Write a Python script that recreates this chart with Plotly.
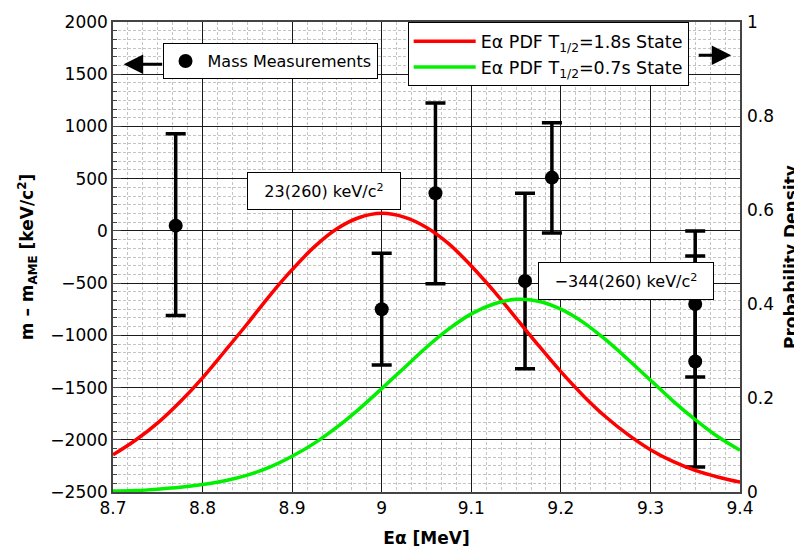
import plotly.graph_objects as go

# ---------------- data ----------------
# Mass measurements: alpha energy [MeV], m - m_AME [keV/c^2] and asymmetric errors
meas_energy = [8.77, 9.00, 9.06, 9.16, 9.19, 9.35, 9.35]
meas_mass = [50, -750, 360, -480, 510, -700, -1250]
meas_err_plus = [880, 535, 865, 840, 525, 700, 1010]
meas_err_minus = [860, 535, 865, 840, 530, 700, 1010]

# Alpha-energy probability densities (right axis)
pdf_energy = [8.700, 8.725, 8.750, 8.775, 8.800, 8.825, 8.850, 8.875, 8.900, 8.925,
              8.950, 8.975, 9.000, 9.025, 9.050, 9.075, 9.100, 9.125, 9.150, 9.175,
              9.200, 9.225, 9.250, 9.275, 9.300, 9.325, 9.350, 9.375, 9.400]
pdf_state_1p8s = [0.079, 0.110, 0.147, 0.192, 0.243, 0.300, 0.358, 0.418, 0.473, 0.522,
                  0.560, 0.584, 0.593, 0.585, 0.563, 0.528, 0.481, 0.428, 0.370, 0.312,
                  0.256, 0.205, 0.160, 0.122, 0.090, 0.065, 0.046, 0.032, 0.021]
pdf_state_0p7s = [0.002, 0.003, 0.006, 0.010, 0.016, 0.024, 0.036, 0.053, 0.076, 0.104,
                  0.138, 0.177, 0.220, 0.264, 0.308, 0.347, 0.379, 0.400, 0.410, 0.406,
                  0.389, 0.361, 0.324, 0.282, 0.238, 0.194, 0.154, 0.118, 0.089]

# Tick labels
x_tickvals = [8.7, 8.8, 8.9, 9.0, 9.1, 9.2, 9.3, 9.4]
x_ticktext = ["8.7", "8.8", "8.9", "9", "9.1", "9.2", "9.3", "9.4"]
y_tickvals = [-2500, -2000, -1500, -1000, -500, 0, 500, 1000, 1500, 2000]
y2_tickvals = [0, 0.2, 0.4, 0.6, 0.8, 1]
y2_ticktext = ["0", "0.2", "0.4", "0.6", "0.8", "1"]

# Labels of the fitted values
label_energy = [8.936, 9.273]
label_mass = [380, -477]
label_text = ["23(260) keV/c<sup>2</sup>", "\u2212344(260) keV/c<sup>2</sup>"]

FONT = "DejaVu Sans"

fig = go.Figure()

fig.add_trace(go.Scatter(
    x=pdf_energy, y=pdf_state_1p8s, yaxis="y2", mode="lines", line_shape="spline",
    line=dict(color="#ff0000", width=3.5),
    name="E\u03b1 PDF T<sub>1/2</sub>=1.8s State", legend="legend2"))
fig.add_trace(go.Scatter(
    x=pdf_energy, y=pdf_state_0p7s, yaxis="y2", mode="lines", line_shape="spline",
    line=dict(color="#00f000", width=3.5),
    name="E\u03b1 PDF T<sub>1/2</sub>=0.7s State", legend="legend2"))

fig.add_trace(go.Scatter(
    x=meas_energy, y=meas_mass, mode="markers",
    marker=dict(color="black", size=14),
    error_y=dict(type="data", symmetric=False, array=meas_err_plus,
                 arrayminus=meas_err_minus, color="black", thickness=3.5, width=10),
    name="Mass Measurements", legend="legend"))

for xv, yv, tx, w in zip(label_energy, label_mass, label_text, [150, 172]):
    fig.add_annotation(x=xv, y=yv, xref="x", yref="y", text=tx, showarrow=False,
                       bgcolor="white", bordercolor="black", borderwidth=1,
                       width=w, height=34, borderpad=1,
                       font=dict(family=FONT, size=16, color="black"))

# legend arrows
fig.add_annotation(x=0.017, y=0.910, xref="paper", yref="paper", text="",
                   showarrow=True, ax=40, ay=0, arrowhead=2, arrowsize=1.3,
                   arrowwidth=3, arrowcolor="black")
fig.add_annotation(x=0.986, y=0.9295, xref="paper", yref="paper", text="",
                   showarrow=True, ax=-34, ay=0, arrowhead=2, arrowsize=1.3,
                   arrowwidth=3, arrowcolor="black")

# right-hand axis title (placed precisely next to the right tick labels)
fig.add_annotation(x=1, y=0.5, xref="paper", yref="paper", xanchor="center",
                   yanchor="middle", xshift=51, textangle=-90, showarrow=False,
                   text="Probability Density",
                   font=dict(family=FONT, size=17, weight="bold", color="black"))

minor_grid = dict(showgrid=True, gridcolor="#c4c4c4", gridwidth=1, griddash="3px,2px")

fig.update_layout(
    width=794, height=540,
    margin=dict(l=105, r=62, t=14, b=56),
    plot_bgcolor="white", paper_bgcolor="white",
    font=dict(family=FONT, size=17, color="black"),
    showlegend=True,
    legend=dict(x=0.079, y=0.955, xanchor="left", yanchor="top",
                bgcolor="white", bordercolor="black", borderwidth=1,
                font=dict(family=FONT, size=16), itemwidth=34),
    legend2=dict(x=0.470, y=0.999, xanchor="left", yanchor="top",
                 bgcolor="white", bordercolor="black", borderwidth=1,
                 font=dict(family=FONT, size=17.5), tracegroupgap=0,
                 itemwidth=62),
    xaxis=dict(range=[8.7, 9.4], tickvals=x_tickvals, ticktext=x_ticktext,
               automargin=False,
               showgrid=True, gridcolor="#1a1a1a", gridwidth=1.2,
               minor=dict(dtick=0.1 / 6, tick0=8.7, **minor_grid),
               showline=True, linecolor="#444", linewidth=1.5, mirror=True,
               ticks="", zeroline=False, ticklabelstandoff=0,
               title=dict(text="E\u03b1 [MeV]", font=dict(size=17, weight="bold"), standoff=18)),
    yaxis=dict(range=[-2500, 2000], tickvals=y_tickvals, automargin=False,
               showgrid=True, gridcolor="#1a1a1a", gridwidth=1.2,
               minor=dict(dtick=500 / 6, tick0=0, ticks="inside", ticklen=4,
                          tickcolor="#444", **minor_grid),
               ticks="inside", ticklen=8, tickcolor="#444",
               showline=True, linecolor="#444", linewidth=1.5, mirror=True,
               zeroline=False,
               title=dict(text="m \u2013 m<sub>AME</sub> [keV/c<sup>2</sup>]",
                          font=dict(size=17, weight="bold"), standoff=12)),
    yaxis2=dict(range=[0, 1], overlaying="y", side="right", anchor="x",
                automargin=False,
                tickvals=y2_tickvals, ticktext=y2_ticktext, showgrid=False,
                zeroline=False, ticks="", showline=False, ticklabelstandoff=6),
)

fig.write_html("out.html")
